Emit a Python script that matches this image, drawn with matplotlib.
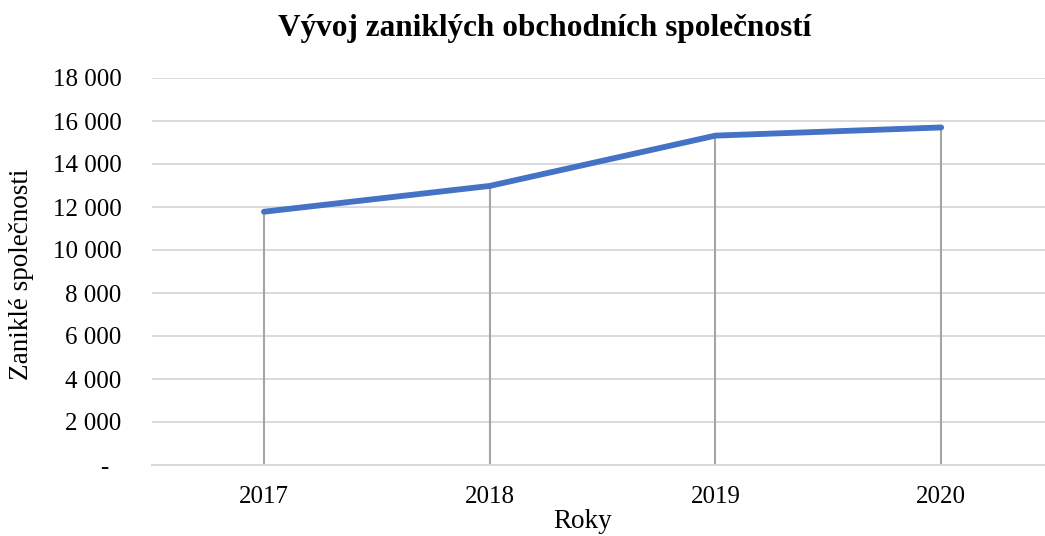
import matplotlib.pyplot as plt
from matplotlib.ticker import FuncFormatter

# data
roky = ['2017', '2018', '2019', '2020']
zanikle = [11780, 12980, 15320, 15700]
y_ticks = [0, 2000, 4000, 6000, 8000, 10000, 12000, 14000, 16000, 18000]

plt.rcParams['font.family'] = ['Liberation Serif', 'DejaVu Serif']

W, H = 1045, 536
fig = plt.figure(figsize=(W/100, H/100), dpi=100)
ax = fig.add_axes([152/W, 71/H, (W-152)/W, (465-78)/H])

x = list(range(len(roky)))

# drop lines from the points down to the axis
ax.vlines(x, 0, zanikle, colors='#A5A5A5', lw=1.5, zorder=2)
ax.plot(x, zanikle, color='#4472C4', lw=4.2, solid_capstyle='round',
        solid_joinstyle='round', zorder=3)

ax.set_xlim(-0.496, 3.46)
ax.set_ylim(0, 18000)
ax.set_yticks(y_ticks)
ax.set_xticks(x)
ax.set_xticklabels(roky)

def fmt(v, pos):
    if v == 0:
        return '-  '
    return '{:,.0f}'.format(v).replace(',', ' ')

ax.yaxis.set_major_formatter(FuncFormatter(fmt))
ax.grid(axis='y', color='#D9D9D9', lw=1.4, zorder=1)
ax.set_axisbelow(True)

for s in ('top', 'right', 'left'):
    ax.spines[s].set_visible(False)
ax.spines['bottom'].set_color('#D9D9D9')
ax.spines['bottom'].set_linewidth(1.4)

ax.tick_params(axis='both', length=0, labelsize=18, colors='black')
ax.tick_params(axis='y', pad=22)
ax.tick_params(axis='x', pad=15)

fig.text(583/W, 1 - 521/H, 'Roky', ha='center', va='center', fontsize=19.5)
fig.text(22/W, 1 - 274/H, 'Zaniklé společnosti', ha='center', va='center',
         rotation=90, fontsize=19.5)

fig.text(545/W, 1 - 36/H, 'Vývoj zaniklých obchodních společností',
         ha='center', va='baseline', fontsize=22.5, fontweight='bold')

fig.savefig('out.png', dpi=100)
